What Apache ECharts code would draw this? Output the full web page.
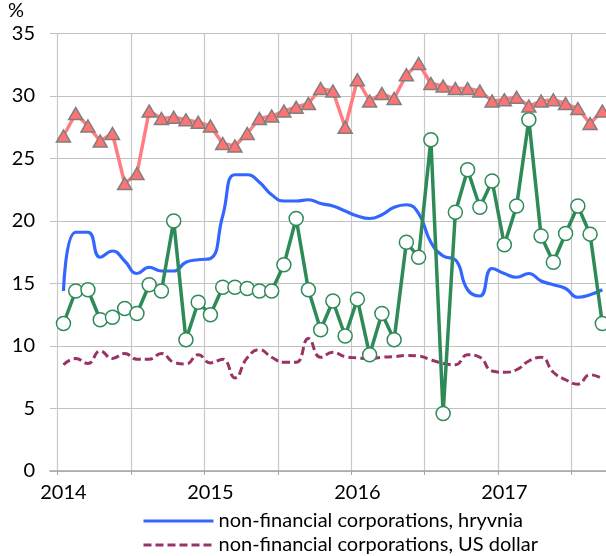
<!DOCTYPE html>
<html><head><meta charset="utf-8">
<script src="https://cdn.jsdelivr.net/npm/echarts@6/dist/echarts.min.js"></script>
<style>html,body{margin:0;padding:0;background:#fff}#c{width:606px;height:556px}</style>
</head><body><div id="c"></div>
<script>
// Months Jan 2014 .. Sep 2017 (45 monthly observations)
const months = [
 '2014-01','2014-02','2014-03','2014-04','2014-05','2014-06','2014-07','2014-08','2014-09','2014-10','2014-11','2014-12',
 '2015-01','2015-02','2015-03','2015-04','2015-05','2015-06','2015-07','2015-08','2015-09','2015-10','2015-11','2015-12',
 '2016-01','2016-02','2016-03','2016-04','2016-05','2016-06','2016-07','2016-08','2016-09','2016-10','2016-11','2016-12',
 '2017-01','2017-02','2017-03','2017-04','2017-05','2017-06','2017-07','2017-08','2017-09'
];
const yearLabels = ['2014','2015','2016','2017'];
const yTickValues = [0,5,10,15,20,25,30,35];

const hryvnia = [14.4,19.1,19.1,17.1,17.6,16.8,15.8,16.3,16.0,16.0,16.7,16.9,
                 17.0,20.4,23.7,23.7,23.1,22.1,21.6,21.6,21.7,21.4,21.2,20.8,
                 20.4,20.2,20.5,21.1,21.3,20.6,18.3,17.2,16.9,14.5,14.0,16.2,
                 15.8,15.5,15.8,15.2,14.9,14.6,13.9,14.1,14.5];
const usDollar = [8.5,9.0,8.6,9.6,9.0,9.4,8.95,8.95,9.4,8.7,8.55,9.3,
                  8.65,8.95,7.45,9.05,9.7,9.1,8.7,8.7,10.6,9.1,9.5,9.15,
                  9.05,9.0,9.1,9.15,9.25,9.2,8.9,8.6,8.5,9.3,9.1,8.0,
                  7.9,8.1,8.8,9.1,7.9,7.3,6.95,7.7,7.4];
const triangleSeries = [26.8,28.6,27.6,26.4,27.0,23.0,23.8,28.8,28.2,28.3,28.1,27.9,
                        27.6,26.2,26.0,27.0,28.2,28.4,28.8,29.1,29.4,30.6,30.4,27.5,
                        31.3,29.6,30.2,29.8,31.7,32.6,31.0,30.8,30.6,30.6,30.4,29.6,
                        29.7,29.9,29.2,29.6,29.7,29.4,29.0,27.8,28.8];
const circleSeries = [11.8,14.4,14.5,12.1,12.3,13.0,12.6,14.9,14.4,20.0,10.5,13.5,
                      12.5,14.7,14.7,14.6,14.4,14.4,16.5,20.2,14.5,11.3,13.6,10.8,
                      13.75,9.3,12.6,10.5,18.3,17.1,26.5,4.6,20.7,24.1,21.1,23.2,
                      18.1,21.2,28.1,18.8,16.7,19.0,21.2,18.95,11.8];

const seriesNames = ['non-financial corporations, hryvnia','non-financial corporations, US dollar','triangle series','circle series'];

// month i is plotted at the middle of its month (months counted from Jan 2014)
const toPts = arr => arr.map((v,i) => [i + 0.5, v]);
const gridValues = [];
for (let m = 0; m <= 42; m += 6) gridValues.push(m);
const labelValues = yearLabels.map((y,k) => k*12 + 0.5);

const FONT = 'Lato';
const legendBase = {
  orient:'vertical', left:137, itemWidth:70, itemHeight:2, itemGap:4,
  itemStyle:{opacity:0},
  lineStyle:{width:3},
  textStyle:{fontFamily:FONT, fontSize:20, color:'#000', lineHeight:22}
};
const chart = echarts.init(document.getElementById('c'), null, {renderer:'canvas'});
chart.setOption({
  animation:false,
  backgroundColor:'#fff',
  textStyle:{fontFamily:FONT},
  graphic:[{type:'text', left:8, top:1, style:{text:'%', font:'20px Lato', fill:'#000'}}],
  grid:{left:50, top:33.5, right:0, bottom:85, containLabel:false},
  legend:[
    Object.assign({}, legendBase, {data:[seriesNames[0]], top:505}),
    Object.assign({}, legendBase, {data:[seriesNames[1]], top:529})
  ],
  xAxis:{
    type:'value', min:-0.6, max:44.8,
    axisLine:{show:true, onZero:false, lineStyle:{color:'#a6a6a6', width:1.5}},
    axisTick:{show:true, customValues:gridValues, length:4, lineStyle:{color:'#a6a6a6'}},
    splitLine:{show:true, lineStyle:{color:'#c8c8c8', width:1.2}},
    axisLabel:{customValues:labelValues, fontFamily:FONT, fontSize:20, color:'#000', margin:12,
      formatter: v => yearLabels[Math.floor(v/12)]}
  },
  yAxis:{
    type:'value', min:0, max:35, interval:5,
    axisLine:{show:false}, axisTick:{show:false},
    splitLine:{show:true, lineStyle:{color:'#c0c0c0', width:1.2}},
    axisLabel:{fontFamily:FONT, fontSize:20, color:'#000', margin:15}
  },
  series:[
    {name:seriesNames[1], type:'line', data:toPts(usDollar), smooth:0.5, showSymbol:false, symbol:'none',
     lineStyle:{color:'#993366', width:3, type:[8,4]}, itemStyle:{color:'#993366'}, z:2},
    {name:seriesNames[0], type:'line', data:toPts(hryvnia), smooth:0.5, showSymbol:false, symbol:'none',
     lineStyle:{color:'#3366ff', width:3.2}, itemStyle:{color:'#3366ff'}, z:3},
    {name:seriesNames[3], type:'line', data:toPts(circleSeries), symbol:'circle', symbolSize:14, showAllSymbol:true,
     lineStyle:{color:'#2e8b57', width:3.5}, itemStyle:{color:'#fff', borderColor:'#2e8b57', borderWidth:1.5}, z:4},
    {name:seriesNames[2], type:'line', data:toPts(triangleSeries), symbol:'triangle', symbolSize:[14,12], showAllSymbol:true,
     lineStyle:{color:'#ff7c80', width:3.5}, itemStyle:{color:'#ff7373', borderColor:'#7f7f7f', borderWidth:1.5}, z:5}
  ]
});
</script></body></html>
